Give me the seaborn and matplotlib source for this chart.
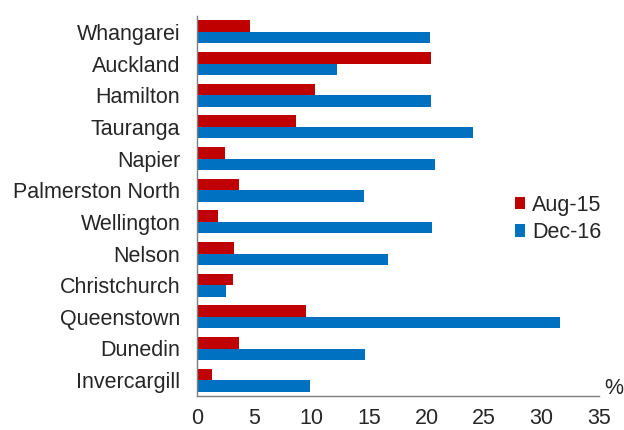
import matplotlib
matplotlib.use("Agg")
import matplotlib.pyplot as plt
import seaborn as sns
import pandas as pd
import numpy as np

cities = ["Whangarei", "Auckland", "Hamilton", "Tauranga", "Napier",
          "Palmerston North", "Wellington", "Nelson", "Christchurch",
          "Queenstown", "Dunedin", "Invercargill"]
aug15 = [4.6, 20.4, 10.3, 8.6, 2.4, 3.7, 1.8, 3.2, 3.1, 9.5, 3.7, 1.3]
dec16 = [20.3, 12.2, 20.4, 24.0, 20.7, 14.5, 20.5, 16.6, 2.5, 31.6, 14.6, 9.8]
series = ["Aug-15", "Dec-16"]
colors = ["#C00000", "#0070C0"]
xticks = [0, 5, 10, 15, 20, 25, 30, 35]

df = pd.DataFrame({
    "city": cities * 2,
    "value": aug15 + dec16,
    "series": [series[0]] * len(cities) + [series[1]] * len(cities),
})

sns.set_style("white")
plt.rcParams["font.family"] = ["Liberation Sans", "DejaVu Sans"]

fig = plt.figure(figsize=(6.24, 4.30), dpi=100)
ax = fig.add_axes([197/624, 1 - 396/430, 402/624, 380/430])

sns.barplot(data=df, x="value", y="city", hue="series", order=cities,
            hue_order=series, palette=colors, saturation=1, width=0.73,
            orient="h", ax=ax, errorbar=None, edgecolor="none")

fs = 15.5
ax.set_xlim(0, 35)
ax.set_ylim(len(cities) - 0.5, -0.5)
ax.set_xticks(xticks)
ax.set_xticklabels([str(t) for t in xticks], fontsize=fs)
ax.set_yticks(range(len(cities)))
ax.set_yticklabels(cities, fontsize=fs)
ax.set_yticks(np.arange(-0.5, len(cities), 1.0), minor=True)
ax.tick_params(axis="y", which="major", length=0, pad=12)
ax.tick_params(axis="y", which="minor", length=4, width=1, color="#7f7f7f", direction="out")
ax.tick_params(axis="x", which="major", length=4, width=1, color="#7f7f7f", direction="out", pad=5)
ax.set_xlabel("")
ax.set_ylabel("")
for s in ["top", "right"]:
    ax.spines[s].set_visible(False)
for s in ["left", "bottom"]:
    ax.spines[s].set_color("#7f7f7f")
    ax.spines[s].set_linewidth(1)

ax.annotate("%", xy=(1, 0), xycoords="axes fraction", xytext=(4, -2),
            textcoords="offset points", ha="left", va="bottom", fontsize=fs)

ax.legend(loc="center left", bbox_to_anchor=(0.79, 0.466), frameon=False,
          fontsize=fs, handlelength=0.5, handleheight=0.5, handletextpad=0.3,
          labelspacing=0.3, borderpad=0, borderaxespad=0)

fig.savefig("out.png", dpi=100)
